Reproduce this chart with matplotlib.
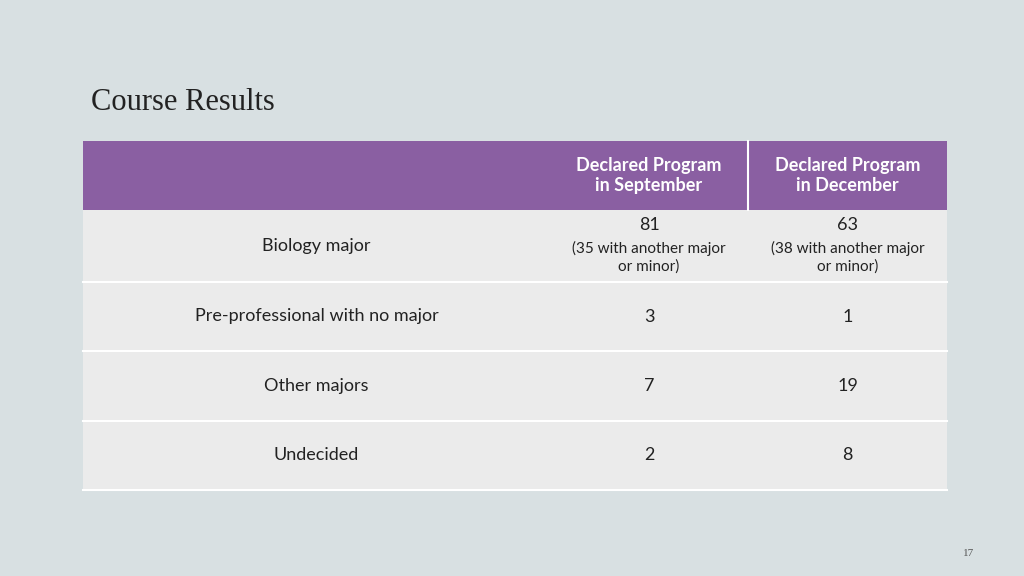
import matplotlib
matplotlib.use("Agg")
import matplotlib.pyplot as plt
from matplotlib.patches import Rectangle

title = "Course Results"
headers = ["Declared Program\nin September", "Declared Program\nin December"]
categories = ["Biology major", "Pre-professional with no major", "Other majors", "Undecided"]
september = [81, 3, 7, 2]
december = [63, 1, 19, 8]
sept_notes = ["(35 with another major\nor minor)", "", "", ""]
dec_notes = ["(38 with another major\nor minor)", "", "", ""]
page = "17"

fig = plt.figure(figsize=(10.24, 5.76), dpi=100)
fig.patch.set_facecolor("#d8e0e2")
ax = fig.add_axes([0, 0, 1, 1])
ax.set_xlim(0, 1024); ax.set_ylim(576, 0); ax.axis("off")

font = "Lato"
ax.text(91, 103, title, fontsize=22, family="Liberation Serif", color="#222222", va="center")

cols = [83, 550, 748, 947]
rows = [141, 210, 282, 351, 421, 490]
purple = "#8a5fa2"
ax.add_patch(Rectangle((cols[0], rows[0]), cols[3]-cols[0], rows[1]-rows[0], color=purple, lw=0))
ax.plot([cols[2], cols[2]], [rows[0], rows[1]], color="white", lw=1.5)
for j, h in enumerate(headers):
    xc = (cols[j+1] + cols[j+2]) / 2
    ax.text(xc, (rows[0]+rows[1])/2, h, ha="center", va="center", color="white",
            fontsize=13, fontweight="bold", family=font, linespacing=1.2)

for i, cat in enumerate(categories):
    y0, y1 = rows[i+1], rows[i+2]
    ax.add_patch(Rectangle((cols[0], y0), cols[3]-cols[0], y1-y0, color="#ebebeb", lw=0))
    ax.plot([cols[0], cols[3]], [y1, y1], color="white", lw=1.5)
    yc = (y0 + y1) / 2
    ax.text((cols[0]+cols[1])/2, yc, cat, ha="center", va="center", fontsize=13, family=font, color="#222222")
    for j, (v, n) in enumerate([(september[i], sept_notes[i]), (december[i], dec_notes[i])]):
        xc = (cols[j+1] + cols[j+2]) / 2
        if n:
            ax.text(xc, yc - 21, str(v), ha="center", va="center", fontsize=13, family=font, color="#222222")
            ax.text(xc, yc + 11, n, ha="center", va="center", fontsize=11, family=font, color="#222222", linespacing=1.3)
        else:
            ax.text(xc, yc, str(v), ha="center", va="center", fontsize=13, family=font, color="#222222")

ax.text(969, 553, page, ha="center", va="center", fontsize=8, family="Liberation Serif", color="#555555")
fig.savefig("out.png", dpi=100, facecolor=fig.get_facecolor())
